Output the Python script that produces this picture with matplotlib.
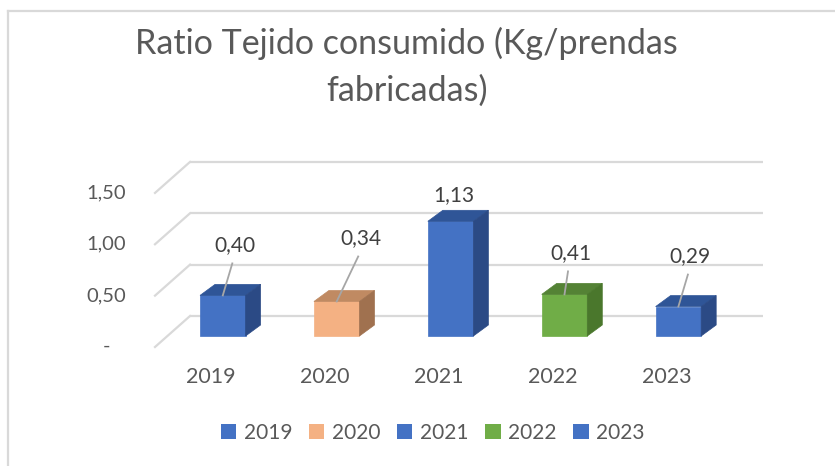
import matplotlib
matplotlib.use("Agg")
import matplotlib.pyplot as plt
from matplotlib.patches import Polygon, Patch
from matplotlib.lines import Line2D
import numpy as np

# ---- data ----
categories = ["2019", "2020", "2021", "2022", "2023"]
values = [0.40, 0.34, 1.13, 0.41, 0.29]
value_labels = ["0,40", "0,34", "1,13", "0,41", "0,29"]
bar_colors = ["#4472C4", "#F4B183", "#4472C4", "#70AD47", "#4472C4"]
top_colors = ["#2F5597", "#C08A62", "#2F5597", "#548235", "#2F5597"]
side_colors = ["#2B4A85", "#A0714F", "#2B4A85", "#4A772C", "#2B4A85"]
yticks = [0.0, 0.5, 1.0, 1.5]
ytick_labels = ["-", "0,50", "1,00", "1,50"]
title = "Ratio Tejido consumido (Kg/prendas\nfabricadas)"

# label offsets (style): (dx px, dy px above bar front top), leader flag
label_offsets = [(12, 50, True), (24, 63, True), (3, 26, False), (6, 41, True), (12, 50, True)]

plt.rcParams["font.family"] = ["Lato", "DejaVu Sans"]
TXT = "#595959"
GRID = "#D9D9D9"

W, H = 835, 466
fig = plt.figure(figsize=(W / 100, H / 100), dpi=100)
ax = fig.add_axes([0, 0, 1, 1])

# pixel mapping of data space
PX_PER_X = 113.9
PX_PER_Y = 101.5
X0PX = 222.8
Y0PX = 336.0
ax.set_xlim(-X0PX / PX_PER_X, (W - X0PX) / PX_PER_X)
ax.set_ylim((Y0PX - H) / PX_PER_Y, Y0PX / PX_PER_Y)
ax.axis("off")

def px_x(p):
    return p / PX_PER_X

def px_y(p):
    return p / PX_PER_Y

# grid (back wall + floor diagonals)
grid_scale = 1.012
back_off = px_y(20)
front_off = px_y(-11)
xb0 = (190 - X0PX) / PX_PER_X
xb1 = (763 - X0PX) / PX_PER_X
xf = (155 - X0PX) / PX_PER_X
for v, lab in zip(yticks, ytick_labels):
    yb = back_off + v * grid_scale
    yf = front_off + v * grid_scale
    ax.plot([xb0, xb1], [yb, yb], color=GRID, lw=1.6, zorder=1, solid_capstyle="butt")
    ax.plot([xf, xb0], [yf, yb], color=GRID, lw=1.6, zorder=1)
    txt = lab if lab != "-" else "-   "
    ax.text((126 - X0PX) / PX_PER_X, yf, txt, ha="right", va="center",
            fontsize=14.5, color=TXT)

# bars with pseudo 3D
x = np.arange(len(categories))
width = 0.4
ddx = px_x(15)
ddy = px_y(11)
bars = ax.bar(x, values, width=width, color=bar_colors, zorder=3,
              edgecolor=bar_colors, linewidth=0.5)
for i, (xi, v) in enumerate(zip(x, values)):
    x0 = xi - width / 2
    x1 = xi + width / 2
    top = Polygon([(x0, v), (x1, v), (x1 + ddx, v + ddy), (x0 + ddx, v + ddy)],
                  closed=True, facecolor=top_colors[i], edgecolor=top_colors[i], lw=0.5, zorder=3)
    side = Polygon([(x1, 0), (x1, v), (x1 + ddx, v + ddy), (x1 + ddx, ddy)],
                   closed=True, facecolor=side_colors[i], edgecolor=side_colors[i], lw=0.5, zorder=3)
    ax.add_patch(top)
    ax.add_patch(side)

    ox, oy, leader = label_offsets[i]
    lx = xi + px_x(ox)
    ly = v + px_y(oy)
    ax.text(lx, ly, value_labels[i], ha="center", va="center", fontsize=15, color="#404040", zorder=5)
    if leader:
        ax.plot([lx - px_x(2.5), xi], [ly - px_y(18), v], color="#A6A6A6", lw=1.3, zorder=4)

    # category labels
    ax.text(xi - px_x(11.5), px_y(-41), categories[i], ha="center", va="center",
            fontsize=15.5, color=TXT)

# title
fig.text(0.487, 1 - 66.5 / H, title, ha="center", va="center", fontsize=24.5,
         color=TXT, linespacing=1.55)

# legend
handles = [Patch(facecolor=c, edgecolor="none") for c in bar_colors]
fig.legend(handles, categories, loc="center", bbox_to_anchor=(432.5 / W, 1 - 433 / H),
           ncol=5, frameon=False, fontsize=15, handlelength=0.75, handleheight=0.75,
           handletextpad=0.35, columnspacing=0.8, labelcolor=TXT)

# chart border (top & left visible)
fig.add_artist(Line2D([7.5 / W, 1], [1 - 10.5 / H, 1 - 10.5 / H], transform=fig.transFigure,
                      color=GRID, lw=1.6))
fig.add_artist(Line2D([7.5 / W, 7.5 / W], [0, 1 - 10.5 / H], transform=fig.transFigure,
                      color=GRID, lw=1.6))

fig.savefig("out.png", dpi=100)
